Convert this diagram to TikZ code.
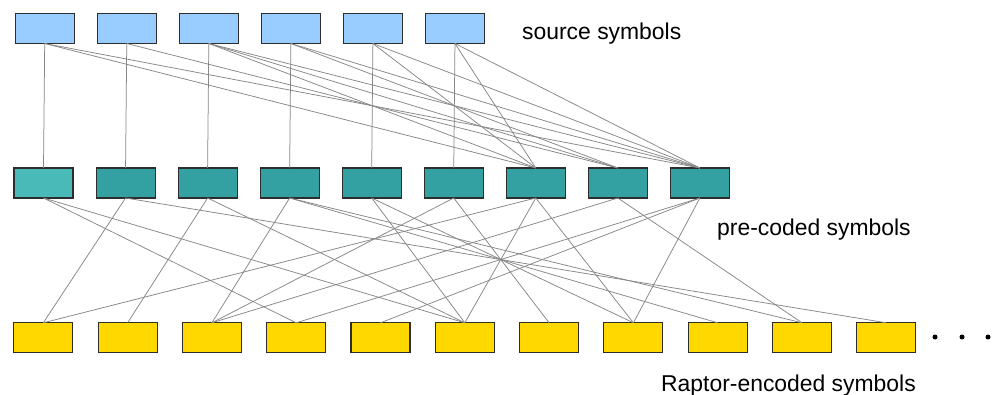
\documentclass[tikz,border=0pt]{standalone}
\usepackage{fontspec}
\setmainfont{Liberation Sans}
\definecolor{srcblue}{RGB}{153,204,255}
\definecolor{preteal}{RGB}{51,161,161}
\definecolor{prelight}{RGB}{74,186,184}
\definecolor{encgold}{RGB}{255,216,0}
\definecolor{linkgray}{RGB}{135,135,135}
\definecolor{edgedark}{RGB}{45,45,45}
\begin{document}
\begin{tikzpicture}[x=1pt,y=-1pt,
  box/.style={draw=edgedark, line width=1.1pt, minimum width=59pt, minimum height=30pt, inner sep=0pt, outer sep=0pt},
  src/.style={box, fill=srcblue},
  pre/.style={box, fill=preteal},
  enc/.style={box, fill=encgold},
  link/.style={draw=linkgray, line width=0.75pt},
  lbl/.style={font=\fontsize{22.9}{27}\selectfont, anchor=base west, inner sep=0pt},
  dot/.style={circle, fill=black, inner sep=0pt, minimum size=5pt}]
\fill[white] (0,0) rectangle (1001,395);
\useasboundingbox (0,0) rectangle (1001,395);
% source symbols
\foreach \i in {1,...,6} {
  \node[src] (s\i) at ({44.7+82.05*(\i-1)},28.5) {};
}
% pre-coded symbols
\foreach \i in {1,...,9} {
  \node[pre] (p\i) at ({43.5+82.05*(\i-1)},183) {};
}
\node[pre, fill=prelight] at (p1) {};
% encoded symbols
\foreach \k in {1,...,11} {
  \node[enc] (e\k) at ({43.3+84.3*(\k-1)},337.8) {};
}
% source -> pre-coded
\foreach \i in {1,...,6} {
  \draw[link] (s\i.south) -- (p\i.north);
}
\foreach \a/\b in {1/7,1/9,2/8,3/7,3/8,3/9,4/8,4/9,5/7,5/9,6/7,6/9} {
  \draw[link] (s\a.south) -- (p\b.north);
}
% pre-coded -> encoded
\foreach \a/\b in {1/4,1/6,2/1,2/11,3/2,3/6,4/3,4/9,4/10,5/6,5/8,6/3,6/7,7/1,7/6,7/8,8/3,8/10,9/4,9/5,9/8} {
  \draw[link] (p\a.south) -- (e\b.north);
}
% dots
\node[dot] (d1) at (935,337) {};
\node[dot] (d2) at (962,337) {};
\node[dot] (d3) at (988,337) {};
% labels
\node[lbl] (ls) at (522,39.5) {source symbols};
\node[lbl] (lp) at (717,235.7) {pre-coded symbols};
\node[lbl] (le) at (661,391) {Raptor-encoded symbols};
\end{tikzpicture}
\end{document}
